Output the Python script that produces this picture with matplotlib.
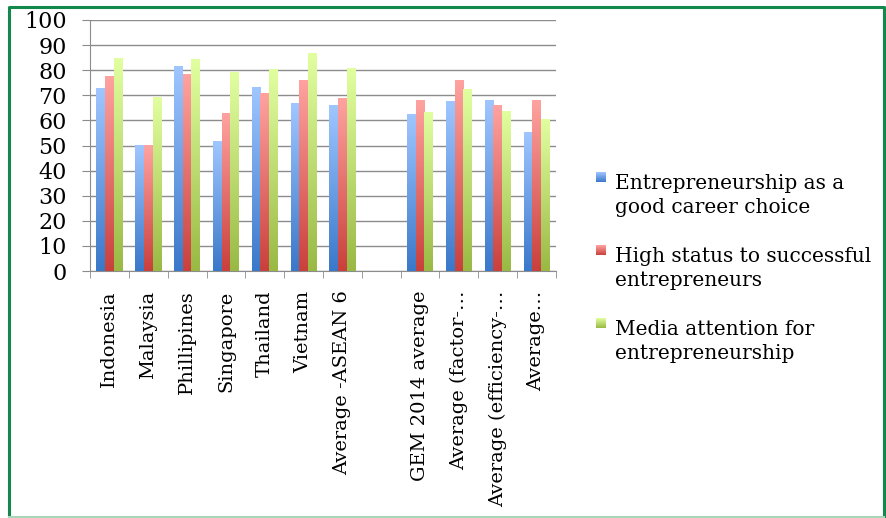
import matplotlib
matplotlib.use("Agg")
import matplotlib.pyplot as plt
import numpy as np
from matplotlib.colors import LinearSegmentedColormap
from matplotlib.lines import Line2D

plt.rcParams['font.family'] = ['DejaVu Serif']

categories = ["Indonesia", "Malaysia", "Phillipines", "Singapore", "Thailand", "Vietnam",
              "Average -ASEAN 6", "", "GEM 2014 average", "Average (factor-\u2026",
              "Average (efficiency-\u2026", "Average\u2026"]
career = [72.8, 50.1, 81.4, 51.7, 73.2, 66.9, 66.0, np.nan, 62.2, 67.5, 68.0, 55.0]
status = [77.6, 50.0, 78.1, 62.7, 70.8, 75.7, 68.9, np.nan, 68.0, 75.7, 66.0, 68.0]
media = [84.7, 69.3, 84.3, 78.9, 80.1, 86.7, 80.5, np.nan, 63.1, 72.4, 63.6, 60.3]
series_names = ["Entrepreneurship as a\ngood career choice",
                "High status to successful\nentrepreneurs",
                "Media attention for\nentrepreneurship"]

# dark bottom -> light top
grads = [("#3a78c9", "#a0c6ff"), ("#c9403c", "#ffa3a0"), ("#99b944", "#e2ffa0")]
mids = ["#6a9de6", "#e6706c", "#c0dc70"]

W, H = 886, 518
fig = plt.figure(figsize=(W / 100, H / 100), dpi=100)
ax = fig.add_axes([0.1016, 0.4768, 0.5259, 0.4846])

x = np.arange(len(categories))
w = 0.224
grad = np.linspace(0, 1, 256).reshape(-1, 1)
cmaps = []
for i, vals in enumerate([career, status, media]):
    bars = ax.bar(x + (i - 1) * w, vals, w, color=mids[i], zorder=2, linewidth=0)
    cmap = LinearSegmentedColormap.from_list("g%d" % i, grads[i])
    cmaps.append(cmap)
    for b in bars:
        h = b.get_height()
        if not np.isfinite(h):
            continue
        ax.imshow(grad, cmap=cmap, origin='lower', aspect='auto', zorder=3,
                  extent=[b.get_x(), b.get_x() + b.get_width(), 0, h])

ax.set_xlim(-0.5, len(categories) - 0.5)
ax.set_ylim(0, 100)
ax.set_yticks(np.arange(0, 101, 10))
ax.yaxis.grid(True, color="#8c8c8c", linewidth=1.0, zorder=0)
ax.set_axisbelow(True)

ax.set_xticks(x)
ax.set_xticklabels(categories, rotation=90, fontsize=14)
ax.set_xticks(np.arange(-0.5, len(categories), 1), minor=True)
ax.tick_params(axis='x', which='major', length=0, pad=14)
ax.tick_params(axis='x', which='minor', length=5, color="#8c8c8c", direction='out')
ax.tick_params(axis='y', length=5.8, color="#8c8c8c", labelsize=16, pad=10.8)

for s in ['top', 'right']:
    ax.spines[s].set_visible(False)
for s in ['left', 'bottom']:
    ax.spines[s].set_color("#8c8c8c")

# legend drawn by hand so the marker sits on the first text line
for i, name in enumerate(series_names):
    first = 177 + i * 73
    lax = fig.add_axes([596 / W, 1 - (first + 5) / H, 10 / W, 10 / H])
    lax.imshow(grad, cmap=cmaps[i], origin='lower', aspect='auto')
    lax.set_axis_off()
    fig.text(615 / W, 1 - (213 + i * 73) / H, name, fontsize=14.5, va='baseline',
             ha='left', linespacing=1.32)

# green frame around the picture (bottom edge is paler)
l, r, t, b = 9 / W, 884 / W, 1 - 6.5 / H, 1 - 516.5 / H
fig.add_artist(Line2D([l, l, r, r], [b, t, t, b], transform=fig.transFigure,
                      color="#12894a", linewidth=2.2))
fig.add_artist(Line2D([l, r], [b, b], transform=fig.transFigure,
                      color="#a9d6b8", linewidth=1.5))

fig.savefig("out.png", dpi=100)
